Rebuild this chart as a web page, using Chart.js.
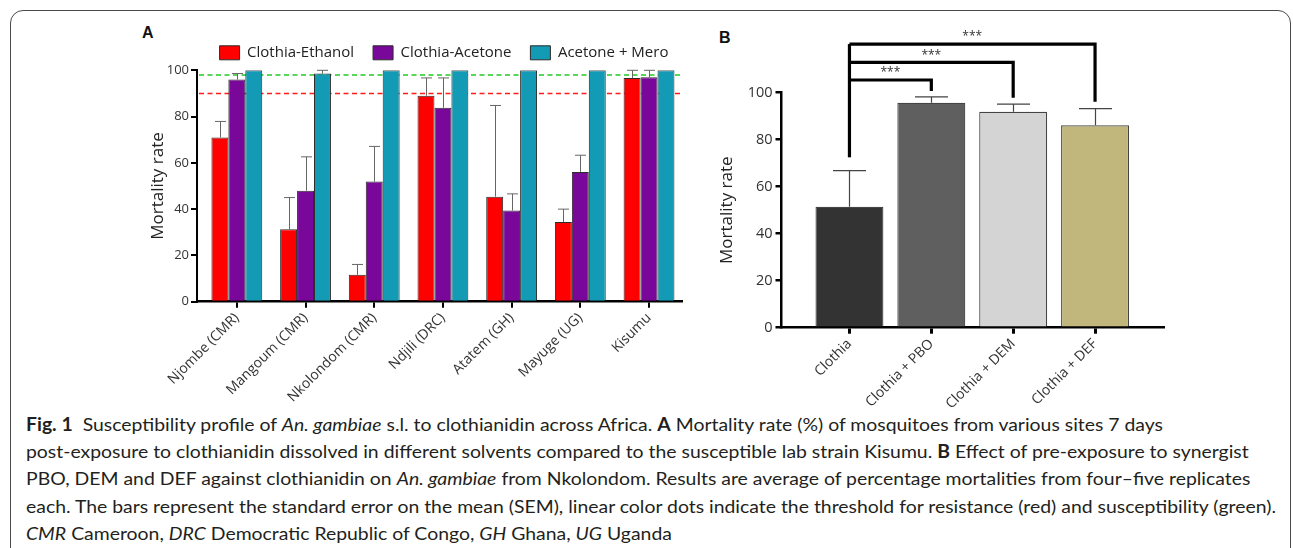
<!DOCTYPE html>
<html><head><meta charset="utf-8">
<script src="https://cdn.jsdelivr.net/npm/chart.js@4.4.0/dist/chart.umd.min.js"></script>
<style>
html,body{margin:0;padding:0;background:#fff;width:1293px;height:548px;overflow:hidden;}
#frame{position:absolute;left:10px;top:10px;width:1281px;height:600px;border:1.5px solid #4a4a4a;border-radius:13px;box-sizing:border-box;}
.wrap{position:absolute;}
#wa{left:130px;top:19px;width:628px;height:391px;}
#wb{left:700px;top:20px;width:480px;height:390px;}
.plabel{position:absolute;font-family:'Liberation Sans',Arial,sans-serif;font-weight:bold;font-size:16px;color:#111;}
#caption{position:absolute;left:26px;top:411px;font-family:Lato,sans-serif;font-size:18px;line-height:27.2px;color:#231f20;white-space:nowrap;transform-origin:0 0;}
#caption div span{display:inline-block;}
</style></head>
<body>
<div id="frame"></div>
<div class="plabel" style="left:142px;top:24px;">A</div>
<div class="plabel" style="left:719px;top:29px;">B</div>
<div class="wrap" id="wa"><canvas id="ca" width="628" height="391"></canvas></div>
<div class="wrap" id="wb"><canvas id="cb" width="480" height="390"></canvas></div>
<div id="caption">
<div><span><b>Fig. 1</b>&nbsp;&nbsp;Susceptibility profile of <i>An. gambiae</i> s.l. to clothianidin across Africa. <b>A</b> Mortality rate (%) of mosquitoes from various sites 7 days</span></div>
<div><span>post-exposure to clothianidin dissolved in different solvents compared to the susceptible lab strain Kisumu. <b>B</b> Effect of pre-exposure to synergist</span></div>
<div><span>PBO, DEM and DEF against clothianidin on <i>An. gambiae</i> from Nkolondom. Results are average of percentage mortalities from four–five replicates</span></div>
<div><span id="refline">each. The bars represent the standard error on the mean (SEM), linear color dots indicate the threshold for resistance (red) and susceptibility (green).</span></div>
<div><span><i>CMR</i> Cameroon, <i>DRC</i> Democratic Republic of Congo, <i>GH</i> Ghana, <i>UG</i> Uganda</span></div>
</div>
<script>
// ---------- Panel A data ----------
const sites = ['Njombe (CMR)','Mangoum (CMR)','Nkolondom (CMR)','Ndjili (DRC)','Atatem (GH)','Mayuge (UG)','Kisumu'];
const ethanolMean = [71.0, 31.3, 11.6, 89.0, 45.4, 34.4, 96.7];
const ethanolSem  = [6.9, 13.7, 4.5, 7.7, 39.4, 5.6, 3.3];
const acetoneMean = [96.0, 48.0, 51.9, 83.8, 39.4, 56.1, 97.0];
const acetoneSem  = [2.6, 14.6, 15.2, 12.9, 7.2, 7.2, 3.0];
const meroMean    = [100, 98.6, 100, 100, 100, 100, 100];
const meroSem     = [0, 1.4, 0, 0, 0, 0, 0];
const thresholdValues = [90, 98];           // resistance (red), susceptibility (green)
const thresholdColors = ['#ff1a1a', '#22c922'];
const yTicks = [0, 20, 40, 60, 80, 100];

// ---------- Panel B data ----------
const treatments = ['Clothia', 'Clothia + PBO', 'Clothia + DEM', 'Clothia + DEF'];
const treatMean  = [51.5, 95.7, 91.9, 86.1];
const treatSem   = [15.3, 2.5, 3.2, 7.1];
const treatColors = ['#333333', '#5f5f5f', '#d4d4d4', '#c1b67c'];
const bracketTargets = [1, 2, 3];
const bracketLevels  = [105.4, 112.9, 120.7];
const bracketLegEnds = [100.7, 97.9, 96.2];
const bracketBaseEnd = 72.5;
const bracketLabels  = ['***', '***', '***'];

const FONT = 'Open Sans';

const errorBars = {
  id: 'errorBars',
  afterDatasetsDraw(chart, args, opts) {
    const ctx = chart.ctx, y = chart.scales.y;
    chart.data.datasets.forEach((ds, di) => {
      const meta = chart.getDatasetMeta(di);
      meta.data.forEach((bar, i) => {
        const sem = ds.sem[i];
        if (!sem) return;
        const top = y.getPixelForValue(ds.data[i].y + sem);
        const x = Math.round(bar.x) + 0.5;
        ctx.save();
        ctx.strokeStyle = opts.color; ctx.lineWidth = opts.width;
        ctx.beginPath();
        ctx.moveTo(x, bar.y); ctx.lineTo(x, top);
        ctx.moveTo(x - opts.cap, top); ctx.lineTo(x + opts.cap, top);
        ctx.stroke(); ctx.restore();
      });
    });
  }
};

const thresholdLines = {
  id: 'thresholdLines',
  beforeDatasetsDraw(chart) {
    const ctx = chart.ctx, y = chart.scales.y, a = chart.chartArea;
    thresholdValues.forEach((v, i) => {
      const py = y.getPixelForValue(v);
      ctx.save();
      ctx.strokeStyle = thresholdColors[i]; ctx.lineWidth = 1.6; ctx.setLineDash([5, 3.5]);
      ctx.beginPath(); ctx.moveTo(a.left + 2, py); ctx.lineTo(a.right, py); ctx.stroke();
      ctx.restore();
    });
  }
};

const brackets = {
  id: 'brackets',
  afterDraw(chart) {
    const ctx = chart.ctx, x = chart.scales.x, y = chart.scales.y;
    const x0 = x.getPixelForValue(0);
    ctx.save();
    ctx.strokeStyle = '#000'; ctx.lineWidth = 3.2; ctx.lineJoin = 'miter';
    ctx.beginPath();
    ctx.moveTo(x0, y.getPixelForValue(bracketBaseEnd));
    ctx.lineTo(x0, y.getPixelForValue(bracketLevels[bracketLevels.length - 1]));
    ctx.stroke();
    bracketTargets.forEach((t, i) => {
      const x1 = x.getPixelForValue(t), py = y.getPixelForValue(bracketLevels[i]);
      ctx.beginPath();
      ctx.moveTo(x0, py); ctx.lineTo(x1, py); ctx.lineTo(x1, y.getPixelForValue(bracketLegEnds[i]));
      ctx.stroke();
      ctx.fillStyle = '#333'; ctx.font = '12px ' + FONT; ctx.textAlign = 'center'; ctx.textBaseline = 'bottom';
      ctx.fillText(bracketLabels[i], (x0 + x1) / 2, py - 1);
    });
    ctx.restore();
  }
};

const tickFont = (s) => ({ family: FONT, size: s });

new Chart(document.getElementById('ca'), {
  type: 'bar',
  data: {
    datasets: [
      { label: 'Clothia-Ethanol', data: sites.map((s, i) => ({ x: i, y: ethanolMean[i] })), sem: ethanolSem,
        backgroundColor: '#ff0000', borderColor: '#2b2b2b', borderWidth: 1 },
      { label: 'Clothia-Acetone', data: sites.map((s, i) => ({ x: i, y: acetoneMean[i] })), sem: acetoneSem,
        backgroundColor: '#78079a', borderColor: '#2b2b2b', borderWidth: 1 },
      { label: 'Acetone + Mero', data: sites.map((s, i) => ({ x: i, y: meroMean[i] })), sem: meroSem,
        backgroundColor: '#139bb5', borderColor: '#2b2b2b', borderWidth: 1 }
    ]
  },
  options: {
    responsive: false, animation: false, devicePixelRatio: 1,
    layout: { padding: { top: 0, right: 0, left: 0, bottom: 0 } },
    datasets: { bar: { categoryPercentage: 0.74, barPercentage: 1 } },
    scales: {
      x: {
        type: 'linear', min: -0.58, max: 6.48, offset: false,
        afterBuildTicks: s => { s.ticks = sites.map((_, i) => ({ value: i })); },
        afterFit: s => { s.height = 108.3; s.paddingLeft = 0; s.paddingRight = 76; },
        ticks: { callback: v => sites[v], autoSkip: false, maxRotation: 45, minRotation: 45,
                 font: tickFont(14), color: '#333', padding: 2 },
        grid: { offset: false, drawOnChartArea: false, tickLength: 6, color: '#000', lineWidth: 2 },
        border: { color: '#000', width: 2.5 }
      },
      y: {
        min: 0, max: 100,
        afterBuildTicks: s => { s.ticks = yTicks.map(v => ({ value: v })); },
        afterFit: s => { s.width = 67; s.paddingTop = 51.3; },
        ticks: { font: tickFont(13), color: '#333', padding: 2 },
        grid: { drawOnChartArea: false, tickLength: 6, color: '#000', lineWidth: 2 },
        border: { color: '#000', width: 2 },
        title: { display: true, text: 'Mortality rate', font: { family: FONT, size: 17 }, color: '#222',
                 padding: { top: 17.8, bottom: 0 } }
      }
    },
    plugins: {
      legend: { display: true, position: 'top',
        labels: { boxWidth: 20, boxHeight: 14, padding: 19, color: '#222', font: { family: FONT, size: 15 } } },
      tooltip: { enabled: false },
      errorBars: { color: '#666', width: 1, cap: 5.5 }
    }
  },
  plugins: [thresholdLines, errorBars]
});

new Chart(document.getElementById('cb'), {
  type: 'bar',
  data: {
    datasets: [
      { label: 'Mortality', data: treatments.map((t, i) => ({ x: i, y: treatMean[i] })), sem: treatSem,
        backgroundColor: treatColors, borderColor: '#444', borderWidth: 1.2 }
    ]
  },
  options: {
    responsive: false, animation: false, devicePixelRatio: 1,
    layout: { padding: { top: 72.7, right: 0, left: 0, bottom: 0 } },
    datasets: { bar: { categoryPercentage: 0.83, barPercentage: 1 } },
    scales: {
      x: {
        type: 'linear', min: -0.83, max: 3.83, offset: false,
        afterBuildTicks: s => { s.ticks = treatments.map((_, i) => ({ value: i })); },
        afterFit: s => { s.height = 82.3; s.paddingLeft = 0; s.paddingRight = 17; },
        ticks: { callback: v => treatments[v], autoSkip: false, maxRotation: 45, minRotation: 45,
                 font: tickFont(14), color: '#333', padding: 2 },
        grid: { offset: false, drawOnChartArea: false, tickLength: 6, color: '#000', lineWidth: 3 },
        border: { color: '#000', width: 2.5 }
      },
      y: {
        min: 0, max: 100,
        afterBuildTicks: s => { s.ticks = yTicks.map(v => ({ value: v })); },
        afterFit: s => { s.width = 81.5; },
        ticks: { font: tickFont(14.5), color: '#333', padding: 3 },
        grid: { drawOnChartArea: false, tickLength: 6, color: '#000', lineWidth: 2.5 },
        border: { color: '#000', width: 2.5 },
        title: { display: true, text: 'Mortality rate', font: { family: FONT, size: 17 }, color: '#222',
                 padding: { top: 16.8, bottom: 0 } }
      }
    },
    plugins: {
      legend: { display: false },
      tooltip: { enabled: false },
      errorBars: { color: '#444', width: 1.2, cap: 16.5 }
    }
  },
  plugins: [errorBars, brackets]
});

function fitCaption() {
  const cap = document.getElementById('caption');
  cap.style.transform = 'none';
  const w = document.getElementById('refline').getBoundingClientRect().width;
  cap.style.transform = 'scaleX(' + (1250 / w) + ')';
}
fitCaption();
if (document.fonts && document.fonts.ready) document.fonts.ready.then(fitCaption);
</script>
</body></html>
